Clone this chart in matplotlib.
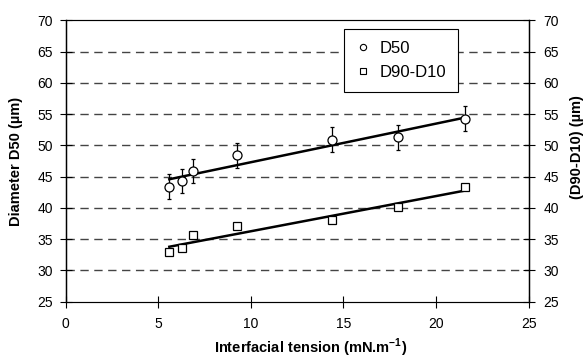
import matplotlib
matplotlib.use("Agg")
import matplotlib.pyplot as plt
import numpy as np

plt.rcParams['font.family'] = ['Liberation Sans', 'DejaVu Sans']
plt.rcParams['mathtext.fontset'] = 'custom'
plt.rcParams['mathtext.rm'] = 'Liberation Sans'
plt.rcParams['mathtext.bf'] = 'Liberation Sans:bold'

# data
tension = [5.6, 6.3, 6.9, 9.25, 14.4, 17.95, 21.55]
d50 = [43.4, 44.3, 45.9, 48.4, 50.9, 51.3, 54.3]
d50_err = [2.0, 2.0, 2.0, 2.0, 2.0, 2.0, 2.0]
span = [32.9, 33.5, 35.6, 37.1, 38.0, 40.1, 43.3]

fig = plt.figure(figsize=(5.86, 3.59), dpi=100)
ax = fig.add_axes([0.112, 0.16, 0.79, 0.783])

# dashed grid
for yv in range(30, 70, 5):
    ax.axhline(yv, color='#444444', lw=1.0, ls=(0, (6, 4)), zorder=0)

# trend lines
x = np.array(tension)
for ys in (d50, span):
    p = np.polyfit(x, ys, 1)
    ax.plot([x.min(), x.max()], np.polyval(p, [x.min(), x.max()]), color='black', lw=1.8, zorder=2)

ax.errorbar(tension, d50, yerr=d50_err, fmt='o', ms=6.5, mfc='white', mec='black',
            mew=0.9, ecolor='black', elinewidth=0.9, capsize=1.6, capthick=0.9, zorder=3)
ax.plot(tension, span, 's', ms=6, mfc='white', mec='black', mew=0.9, zorder=3)

h1, = ax.plot([], [], 'o', ms=4.5, mfc='white', mec='black', mew=0.8, label='D50')
h2, = ax.plot([], [], 's', ms=4.5, mfc='white', mec='black', mew=0.8, label='D90-D10')
leg = ax.legend(handles=[h1, h2], loc='upper left', bbox_to_anchor=(0.602, 0.969),
                borderaxespad=0, fancybox=False, edgecolor='black', fontsize=12,
                handlelength=0.8, handletextpad=0.6, labelspacing=0.55,
                borderpad=0.7, framealpha=1)
leg.get_frame().set_linewidth(0.8)

ax.set_xlim(0, 25)
ax.set_ylim(25, 70)
ax.set_xticks(range(0, 26, 5))
ax.set_yticks(range(25, 71, 5))
ax.tick_params(direction='inout', length=8.5, width=0.8, labelsize=10, colors='black')
ax.tick_params(axis='x', pad=7)
ax.tick_params(axis='y', pad=5)
ax.spines['top'].set_color('#555555')
ax.spines['bottom'].set_color('#555555')
for s in ('left', 'right'):
    ax.spines[s].set_linewidth(1.0)

ax2 = ax.twinx()
ax2.set_ylim(25, 70)
ax2.set_yticks(range(25, 71, 5))
ax2.tick_params(direction='inout', length=8.5, width=0.8, labelsize=10, pad=6.5)

ax.set_xlabel(r'Interfacial tension (mN.m$^{\mathbf{-1}}$)', fontsize=10.5, fontweight='bold')
ax.xaxis.set_label_coords(0.53, -0.126)
ax.set_ylabel('Diameter D50 (µm)', fontsize=10.5, fontweight='bold')
ax.yaxis.set_label_coords(-0.092, 0.5)
ax2.set_ylabel('(D90-D10) (µm)', fontsize=10.5, fontweight='bold')
ax2.yaxis.set_label_coords(1.09, 0.55)

fig.savefig('out.png', dpi=100)
